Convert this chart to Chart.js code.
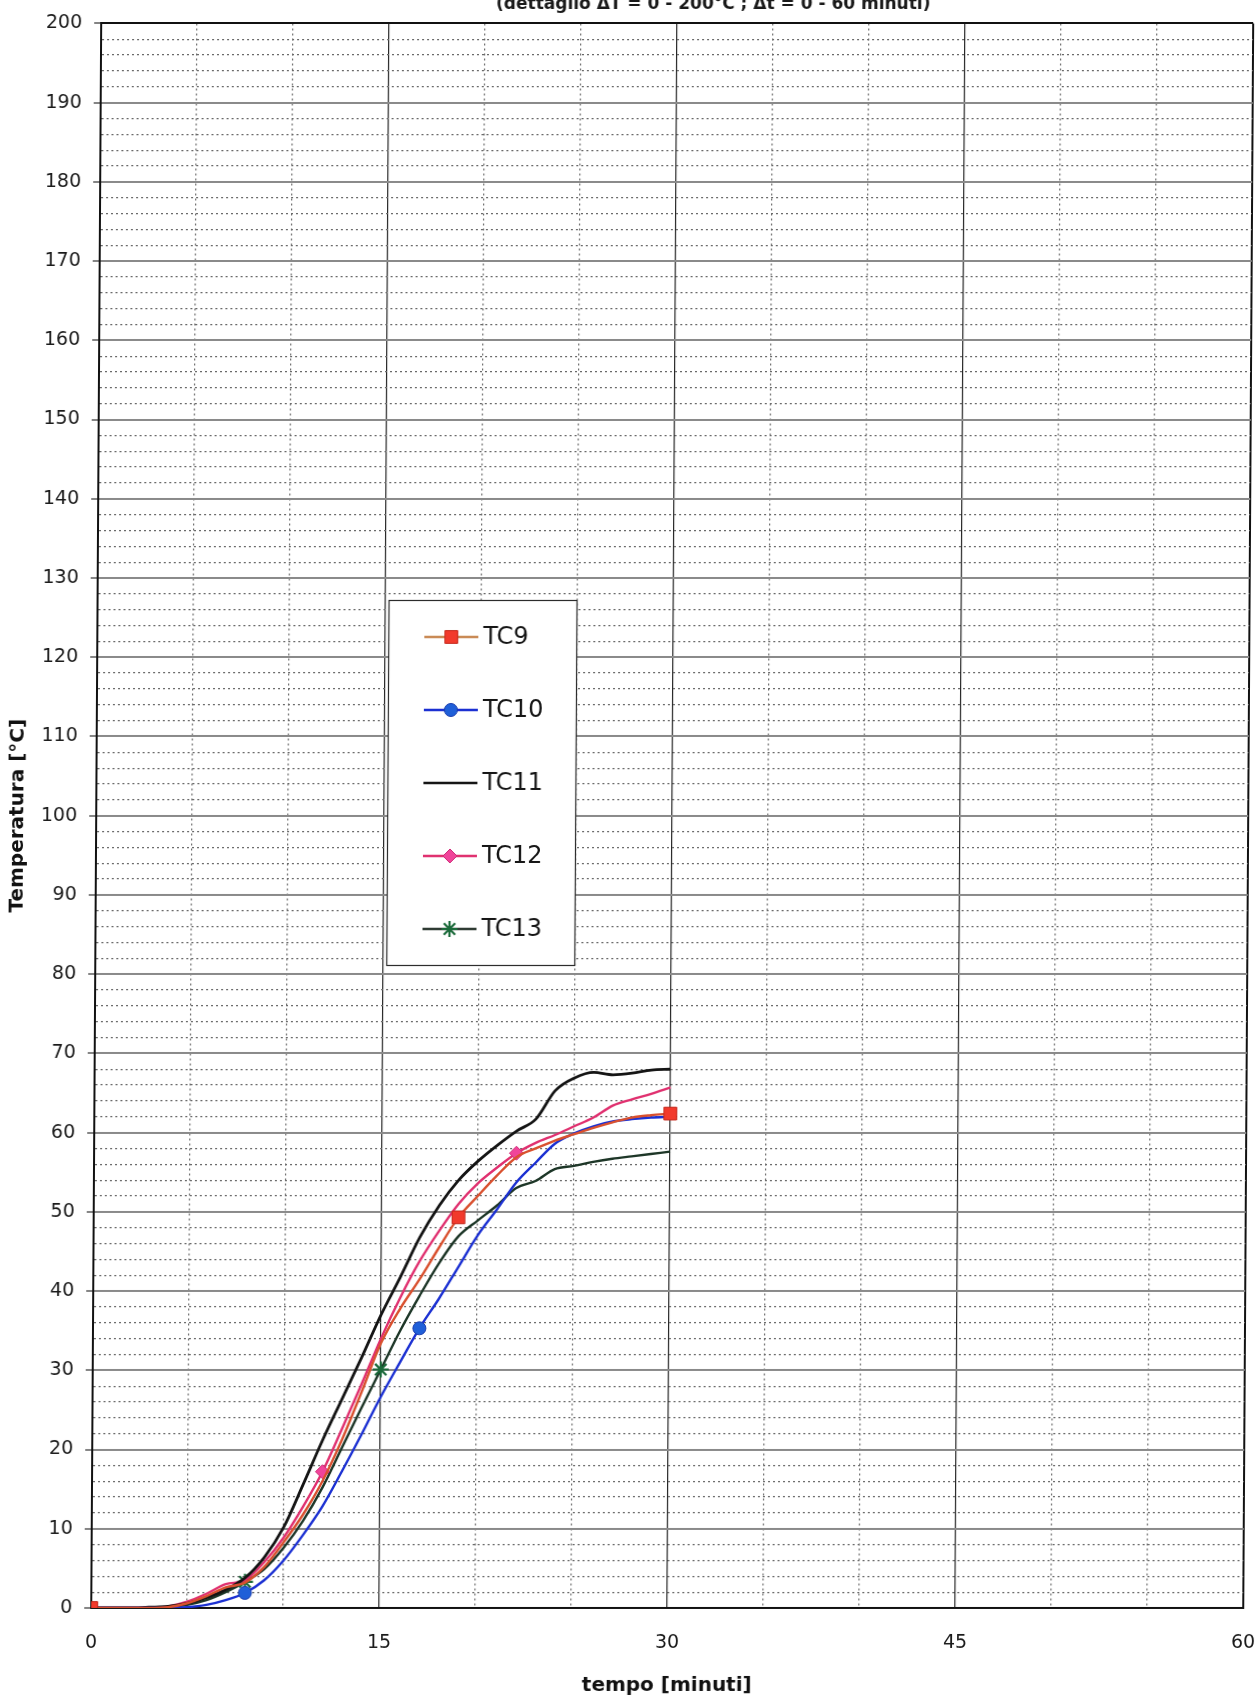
<!DOCTYPE html>
<html>
<head>
<meta charset="utf-8">
<script src="https://cdn.jsdelivr.net/npm/chart.js@4.4.1/dist/chart.umd.min.js"></script>
<style>
  html, body { margin: 0; padding: 0; background: #fff; }
  #wrap { position: relative; width: 1260px; height: 1698px; overflow: hidden; background: #fff; }
  /* the scanned sheet leans slightly: vertical lines drift left toward the bottom */
  canvas { display: block; transform: skewX(-0.36deg); transform-origin: 630px 849px; }
</style>
</head>
<body>
<div id="wrap"><canvas id="chart" width="1260" height="1698"></canvas></div>
<script>
// temperature log, minutes 0..30
const chartTitle = '(dettaglio ΔT = 0 - 200°C ; Δt = 0 - 60 minuti)';
const xTitle = 'tempo [minuti]';
const yTitle = 'Temperatura [°C]';
const xLabelTicks = [0, 15, 30, 45, 60];

const times = [0, 1, 2, 3, 4, 5, 6, 7, 8, 9, 10, 11, 12, 13, 14, 15, 16, 17, 18, 19, 20, 21, 22, 23, 24, 25, 26, 27, 28, 29, 30];
const tc9  = [0, 0, 0, 0, 0.1, 0.6, 1.5, 2.6, 3.2, 5.2, 8.3, 11.8, 16.0, 21.2, 27.2, 33.4, 37.8, 41.5, 45.5, 49.3, 52.0, 54.6, 56.9, 58.0, 59.0, 59.8, 60.6, 61.3, 61.9, 62.2, 62.4];
const tc10 = [0, 0, 0, 0, 0, 0.1, 0.4, 1.0, 1.9, 3.5, 6.0, 9.2, 12.8, 17.2, 21.8, 26.6, 31.0, 35.3, 39.0, 43.0, 47.0, 50.3, 53.7, 56.2, 58.6, 59.9, 60.8, 61.4, 61.7, 61.9, 62.0];
const tc11 = [0, 0, 0, 0.1, 0.2, 0.6, 1.3, 2.3, 3.8, 6.4, 10.2, 15.6, 21.2, 26.4, 31.6, 37.0, 41.8, 46.8, 50.8, 54.0, 56.4, 58.4, 60.2, 61.7, 65.3, 66.9, 67.6, 67.3, 67.5, 67.9, 68.0];
const tc12 = [0, 0, 0, 0, 0.2, 0.8, 1.8, 3.0, 3.5, 5.8, 8.9, 12.8, 17.2, 22.6, 28.2, 34.0, 39.2, 43.8, 47.6, 51.0, 53.6, 55.6, 57.4, 58.7, 59.7, 60.8, 61.9, 63.4, 64.2, 64.9, 65.7];
const tc13 = [0, 0, 0, 0, 0.1, 0.4, 1.0, 2.0, 3.3, 4.9, 7.6, 11.0, 15.2, 20.2, 25.2, 30.1, 35.0, 39.4, 43.5, 46.9, 48.9, 50.8, 53.0, 53.9, 55.4, 55.8, 56.3, 56.7, 57.0, 57.3, 57.6];

// minutes where a marker is shown
const tc9Marks = [0, 19, 30];
const tc10Marks = [8, 17];
const tc11Marks = [];
const tc12Marks = [12, 22];
const tc13Marks = [8, 15];

const FONT = '"DejaVu Sans", sans-serif';

function toXY(values) {
  return times.map((t, i) => ({ x: t, y: values[i] }));
}
function markRadius(marks, r) {
  return c => (marks.includes(times[c.dataIndex]) ? r : 0);
}

function series(label, values, marks, st) {
  return {
    label,
    data: toXY(values),
    borderColor: st.line,
    borderWidth: st.width || 2.4,
    pointStyle: st.point || 'circle',
    pointRadius: markRadius(marks, st.radius || 0),
    pointHoverRadius: 0,
    pointBackgroundColor: st.fill || st.line,
    pointBorderColor: st.stroke || st.line,
    pointBorderWidth: st.pbw || 1,
    cubicInterpolationMode: 'monotone',
    fill: false,
    legendLine: st.legendLine || st.line,
    legendRadius: st.radius || 0,
  };
}

const datasets = [
  series('TC9', tc9, tc9Marks, { line: '#d9502e', legendLine: '#c98a55', point: 'rect', radius: 9, fill: '#f23a2c', stroke: '#c4281c' }),
  series('TC10', tc10, tc10Marks, { line: '#1a2fd2', point: 'circle', radius: 6.5, fill: '#1f5fd8', stroke: '#1a3cae' }),
  series('TC11', tc11, tc11Marks, { line: '#141414', width: 2.8 }),
  series('TC12', tc12, tc12Marks, { line: '#e0306f', point: 'rectRot', radius: 7, fill: '#f0449a', stroke: '#d02a78' }),
  series('TC13', tc13, tc13Marks, { line: '#1c3526', legendLine: '#2e3a32', point: 'star', radius: 8, stroke: '#1b6a3a', pbw: 2.2 }),
];

// legend drawn as a framed box inside the plot, like the original sheet
const boxLegend = {
  id: 'boxLegend',
  afterDraw(chart) {
    const ctx = chart.ctx;
    ctx.save();
    ctx.fillStyle = '#fff';
    ctx.fillRect(387, 600, 188, 365);
    ctx.strokeStyle = '#2a2a2a';
    ctx.lineWidth = 1.2;
    ctx.strokeRect(387.5, 600.5, 188, 365);
    chart.data.datasets.forEach((ds, i) => {
      const y = 637 + i * 73;
      ctx.setLineDash([]);
      ctx.strokeStyle = ds.legendLine;
      ctx.lineWidth = 2.5;
      ctx.beginPath();
      ctx.moveTo(423, y);
      ctx.lineTo(477, y);
      ctx.stroke();
      if (ds.legendRadius) {
        ctx.fillStyle = ds.pointBackgroundColor;
        ctx.strokeStyle = ds.pointBorderColor;
        ctx.lineWidth = ds.pointBorderWidth;
        Chart.helpers.drawPoint(ctx, {
          pointStyle: ds.pointStyle, radius: ds.legendRadius, rotation: 0, borderWidth: ds.pointBorderWidth
        }, 450, y);
      }
      ctx.fillStyle = '#151515';
      ctx.font = '24px ' + FONT;
      ctx.textAlign = 'left';
      ctx.textBaseline = 'middle';
      ctx.fillText(ds.label, 482, y + 1);
    });
    ctx.restore();
  }
};

// page title sits partly above the scan edge
const topTitle = {
  id: 'topTitle',
  afterDraw(chart) {
    const ctx = chart.ctx;
    ctx.save();
    ctx.fillStyle = '#1a1a1a';
    ctx.font = 'bold 17px ' + FONT;
    ctx.textAlign = 'center';
    ctx.textBaseline = 'alphabetic';
    ctx.fillText(chartTitle, 708, 9);
    ctx.restore();
  }
};

const isMajorY = v => v % 10 === 0;
const isEdgeY = v => v === 0 || v === 200;
const isMajorX = v => v % 15 === 0;
const isEdgeX = v => v === 0 || v === 60;

new Chart(document.getElementById('chart'), {
  type: 'line',
  data: { datasets },
  plugins: [boxLegend, topTitle],
  options: {
    responsive: false,
    animation: false,
    events: [],
    layout: { padding: { top: 17, right: 12, left: 0, bottom: 0 } },
    plugins: { legend: { display: false }, tooltip: { enabled: false }, title: { display: false } },
    scales: {
      x: {
        type: 'linear',
        min: 0, max: 60,
        afterFit: s => { s.height = 90; s.paddingLeft = 0; s.paddingRight = 0; },
        ticks: {
          stepSize: 5, autoSkip: false, maxRotation: 0, padding: 24,
          color: '#1a1a1a', font: { family: FONT, size: 19 },
          callback: v => (xLabelTicks.includes(v) ? v : ''),
        },
        grid: {
          drawTicks: false,
          color: c => (!c.tick ? '#111' : isEdgeX(c.tick.value) ? '#111' : isMajorX(c.tick.value) ? '#262626' : '#6e6e6e'),
          lineWidth: c => (!c.tick ? 2 : isEdgeX(c.tick.value) ? 2 : 1.2),
        },
        border: {
          color: '#111', width: 2,
          dash: c => (c.tick && !isMajorX(c.tick.value) ? [2, 3] : []),
        },
        title: {
          display: true, text: xTitle, color: '#111',
          font: { family: FONT, size: 20, weight: 'bold' }, padding: { top: 0, bottom: 0 },
        },
      },
      y: {
        min: 0, max: 200,
        afterFit: s => { s.width = 96; },
        ticks: {
          stepSize: 2, autoSkip: false, padding: 12,
          color: '#1a1a1a', font: { family: FONT, size: 19 },
          callback: v => (isMajorY(v) ? v : ''),
        },
        grid: {
          tickLength: 7,
          color: c => (!c.tick ? '#111' : isEdgeY(c.tick.value) ? '#111' : isMajorY(c.tick.value) ? '#8a8a8a' : '#6a6a6a'),
          lineWidth: c => (!c.tick ? 2 : isEdgeY(c.tick.value) ? 2 : isMajorY(c.tick.value) ? 2 : 1.2),
          tickColor: c => (c.tick && isMajorY(c.tick.value) ? '#333' : 'rgba(0,0,0,0)'),
          tickWidth: 1.2,
        },
        border: {
          color: '#111', width: 2,
          dash: c => (c.tick && !isMajorY(c.tick.value) ? [2, 3] : []),
        },
        title: {
          display: true, text: yTitle, color: '#111',
          font: { family: FONT, size: 20, weight: 'bold' }, padding: { top: 6, bottom: 0 },
        },
      },
    },
  },
});
</script>
</body>
</html>
